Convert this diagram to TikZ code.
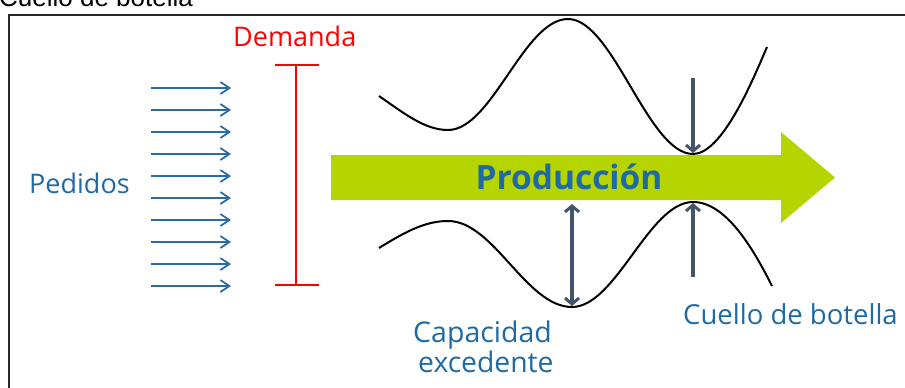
\documentclass[tikz,border=0pt]{standalone}
\usepackage{fontspec}
\setmainfont{Open Sans}
\newfontfamily\arialfont{Liberation Sans}
\usetikzlibrary{arrows.meta}
\definecolor{txtblue}{RGB}{31,106,165}
\definecolor{arrblue}{RGB}{42,107,168}
\definecolor{prodgreen}{RGB}{181,212,0}
\definecolor{slate}{RGB}{68,84,106}
\tikzset{tipg/.tip={Straight Barb[length=6pt,width=14pt,line width=3pt]}}
\begin{document}
\begin{tikzpicture}[x=1pt,y=-1pt,
  lbl/.style={inner sep=0pt,anchor=base west,text=txtblue,font=\fontsize{27.5}{30}\selectfont},
  order/.style={draw=arrblue,line width=1.8pt,-{Straight Barb[length=9pt,width=12pt,line width=1.8pt]}},
  gauge/.style={draw=slate,line width=3.4pt},
  wave/.style={draw=black,line width=2pt},
  demand/.style={draw=red,line width=2.8pt}]
\useasboundingbox (0,0) rectangle (905,388);
% title and frame
\node[inner sep=0pt,anchor=base west,font=\arialfont\fontsize{26}{30}\selectfont] (title) at (-1,6) {Cuello de botella};
\draw[line width=2.2pt,draw=black!85] (9,400) -- (9,15) -- (920,15);
% demand
\node[lbl,text=red,font=\fontsize{27}{30}\selectfont] (demanda) at (233,46) {Demanda};
\coordinate (dtop) at (296,65); \coordinate (dbot) at (296,285);
\coordinate (dtl) at (275,65); \coordinate (dtr) at (319,65);
\coordinate (dbl) at (275,285); \coordinate (dbr) at (319,285);
\draw[demand] (dtop) -- (dbot);
\draw[demand] (dtl) -- (dtr);
\draw[demand] (dbl) -- (dbr);
% orders
\node[lbl,font=\fontsize{27}{30}\selectfont] (pedidos) at (29,193) {Pedidos};
\foreach \i in {0,...,9}{
  \coordinate (os\i) at (151,{88+22*\i});
  \coordinate (oe\i) at (231,{88+22*\i});
  \draw[order] (os\i) -- (oe\i);
}
% production arrow
\fill[prodgreen] (331,155) -- (781,155) -- (781,132) -- (835,177.5) -- (781,223) -- (781,200) -- (331,200) -- cycle;
\node[inner sep=0pt,anchor=base,text=txtblue,font=\bfseries\fontsize{33.5}{38}\selectfont] (prod) at (569,189) {Producción};
% waves
\coordinate (u0) at (379,96); \coordinate (u1) at (448,130); \coordinate (u2) at (568,19);
\coordinate (u3) at (693,154); \coordinate (u4) at (767,47);
\draw[wave] (u0) .. controls (405,114) and (425,130) .. (u1)
  .. controls (492,130) and (524,19) .. (u2)
  .. controls (613,19) and (648,154) .. (u3)
  .. controls (722,154) and (752,82) .. (u4);
\coordinate (l0) at (379,248); \coordinate (l1) at (448,221); \coordinate (l2) at (572,307);
\coordinate (l3) at (693,202); \coordinate (l4) at (772,286);
\draw[wave] (l0) .. controls (405,232) and (425,221) .. (l1)
  .. controls (494,221) and (526,307) .. (l2)
  .. controls (616,307) and (649,202) .. (l3)
  .. controls (725,202) and (752,246) .. (l4);
% gauges
\coordinate (cap1) at (572,204); \coordinate (cap2) at (572,306);
\draw[gauge,tipg-tipg] (cap1) -- (cap2);
\coordinate (bn1) at (693,78); \coordinate (bn2) at (693,153);
\draw[gauge,-tipg] (bn1) -- (bn2);
\coordinate (bn3) at (693,277); \coordinate (bn4) at (693,203);
\draw[gauge,-tipg] (bn3) -- (bn4);
% labels
\node[lbl] (cuello) at (683,324) {Cuello de botella};
\node[lbl,font=\fontsize{28.5}{30}\selectfont] (capac) at (413,342) {Capacidad};
\node[lbl,font=\fontsize{28.3}{30}\selectfont] (exced) at (418,372) {excedente};
\end{tikzpicture}
\end{document}
